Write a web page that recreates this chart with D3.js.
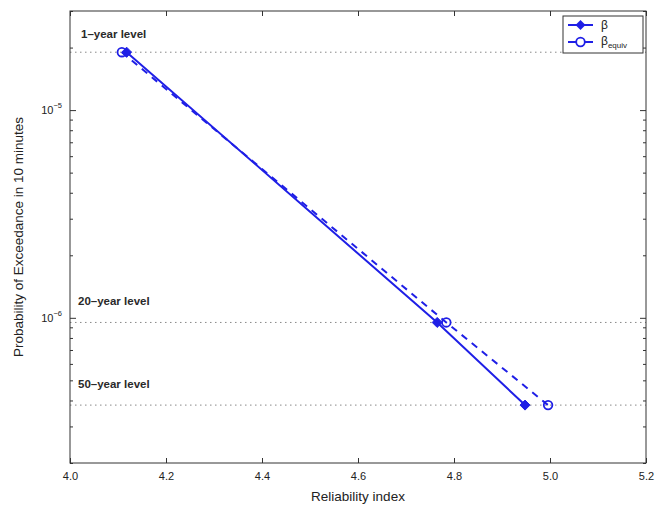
<!DOCTYPE html>
<html><head><meta charset="utf-8">
<script src="https://cdn.jsdelivr.net/npm/d3@7/dist/d3.min.js"></script>
<style>
html,body{margin:0;padding:0;background:#fff;}
svg{display:block;font-family:"Liberation Sans",Arial,Helvetica,sans-serif;}
</style></head>
<body><svg id="chart" width="665" height="508"></svg>
<script>
// ── data ──
const betaX=[4.118,4.765,4.948];
const betaEqX=[4.108,4.784,4.996];
const probY=[1.9e-5,9.5e-7,3.8e-7];
const levels=[1.9e-5,9.5e-7,3.8e-7];
const levelNames=['1\u2013year level','20\u2013year level','50\u2013year level'];
const xTicks=[4.0,4.2,4.4,4.6,4.8,5.0,5.2];
const yMajor=[1e-5,1e-6];
const yMinor=[2e-7,3e-7,4e-7,5e-7,6e-7,7e-7,8e-7,9e-7,2e-6,3e-6,4e-6,5e-6,6e-6,7e-6,8e-6,9e-6,2e-5,3e-5];

const L=70,R=646,T=11,B=463;
const BLUE='#1f1fe6';
const svg=d3.select('#chart');
const x=d3.scaleLinear().domain([4.0,5.2]).range([L,R]);
const y=d3.scaleLog().domain([2e-7,3e-5]).range([B,T]);

// level lines (dotted)
svg.append('g').selectAll('line').data(levels).join('line')
  .attr('x1',L).attr('x2',R).attr('y1',d=>y(d)).attr('y2',d=>y(d))
  .attr('stroke','#888').attr('stroke-width',1).attr('stroke-dasharray','1.5,3.5');
const lvlTxtX=[81,78,78],lvlTxtDy=[-14,-17,-17];
svg.append('g').selectAll('text').data(levels).join('text')
  .attr('x',(d,i)=>lvlTxtX[i]).attr('y',(d,i)=>y(d)+lvlTxtDy[i])
  .attr('font-size',11.5).attr('fill','#2a2a2a').attr('font-weight','bold')
  .text((d,i)=>levelNames[i]);

// frame + ticks (MATLAB style, inward, both sides)
const xAxB=d3.axisBottom(x).tickValues(xTicks).tickSize(-5).tickPadding(9).tickFormat(d3.format('.1f'));
const xAxT=d3.axisTop(x).tickValues(xTicks).tickSize(-5).tickFormat('');
const gxb=svg.append('g').attr('transform',`translate(0,${B})`).call(xAxB);
svg.append('g').attr('transform',`translate(0,${T})`).call(xAxT);
const yAxL=d3.axisLeft(y).tickValues(yMajor).tickSize(-6).tickFormat('');
const yAxLm=d3.axisLeft(y).tickValues(yMinor).tickSize(-3).tickFormat('');
const yAxR=d3.axisRight(y).tickValues(yMajor).tickSize(-6).tickFormat('');
const yAxRm=d3.axisRight(y).tickValues(yMinor).tickSize(-3).tickFormat('');
svg.append('g').attr('transform',`translate(${L},0)`).call(yAxL);
svg.append('g').attr('transform',`translate(${L},0)`).call(yAxLm);
svg.append('g').attr('transform',`translate(${R},0)`).call(yAxR);
svg.append('g').attr('transform',`translate(${R},0)`).call(yAxRm);
svg.selectAll('.domain').remove();
svg.selectAll('.tick line').attr('stroke','#333');
gxb.selectAll('text').attr('font-size',11).attr('fill','#222');
svg.append('rect').attr('x',L).attr('y',T).attr('width',R-L).attr('height',B-T)
  .attr('fill','none').attr('stroke','#333').attr('stroke-width',1);

// y tick labels 10^n
const yl=svg.append('g').selectAll('text').data(yMajor).join('text')
  .attr('x',L-8).attr('y',d=>y(d)+4).attr('text-anchor','end')
  .attr('font-size',11).attr('fill','#222');
yl.append('tspan').text('10');
yl.append('tspan').attr('dy',-6).attr('font-size',7.5).text(d=>'\u2212'+Math.round(-Math.log10(d)));

// axis titles
svg.append('text').attr('x',(L+R)/2).attr('y',501).attr('text-anchor','middle')
  .attr('font-size',13.5).attr('fill','#222').text('Reliability index');
svg.append('text').attr('transform',`translate(23,${(T+B)/2}) rotate(-90)`).attr('text-anchor','middle')
  .attr('font-size',13.5).attr('fill','#222').text('Probability of Exceedance in 10 minutes');

// series
const line=d3.line().x(d=>x(d[0])).y(d=>y(d[1]));
const sBeta=betaX.map((v,i)=>[v,probY[i]]);
const sEq=betaEqX.map((v,i)=>[v,probY[i]]);
svg.append('path').datum(sEq).attr('d',line).attr('fill','none')
  .attr('stroke',BLUE).attr('stroke-width',2).attr('stroke-dasharray','7,6');
svg.append('path').datum(sBeta).attr('d',line).attr('fill','none')
  .attr('stroke',BLUE).attr('stroke-width',2);
const diamond=d3.symbol().type(d3.symbolDiamond2).size(64);
svg.append('g').selectAll('path').data(sBeta).join('path')
  .attr('transform',d=>`translate(${x(d[0])},${y(d[1])})`).attr('d',diamond)
  .attr('fill',BLUE).attr('stroke',BLUE).attr('stroke-width',1);
svg.append('g').selectAll('circle').data(sEq).join('circle')
  .attr('cx',d=>x(d[0])).attr('cy',d=>y(d[1])).attr('r',4.3)
  .attr('fill','none').attr('stroke',BLUE).attr('stroke-width',1.8);

// legend
const lg=svg.append('g');
lg.append('rect').attr('x',563).attr('y',16).attr('width',80).attr('height',37)
  .attr('fill','#fff').attr('stroke','#333').attr('stroke-width',1);
lg.append('line').attr('x1',568).attr('x2',593).attr('y1',25).attr('y2',25).attr('stroke',BLUE).attr('stroke-width',2);
lg.append('path').attr('transform','translate(580.5,25)').attr('d',diamond).attr('fill',BLUE);
lg.append('line').attr('x1',568).attr('x2',593).attr('y1',42).attr('y2',42).attr('stroke',BLUE).attr('stroke-width',2);
lg.append('circle').attr('cx',580.5).attr('cy',42).attr('r',4.3).attr('fill','#fff').attr('stroke',BLUE).attr('stroke-width',1.8);
lg.append('text').attr('x',601).attr('y',29).attr('font-size',12).attr('fill','#222').text('\u03b2');
const t2=lg.append('text').attr('x',601).attr('y',45).attr('font-size',12).attr('fill','#222');
t2.append('tspan').text('\u03b2');
t2.append('tspan').attr('dy',3).attr('font-size',8).text('equiv');
</script></body></html>
